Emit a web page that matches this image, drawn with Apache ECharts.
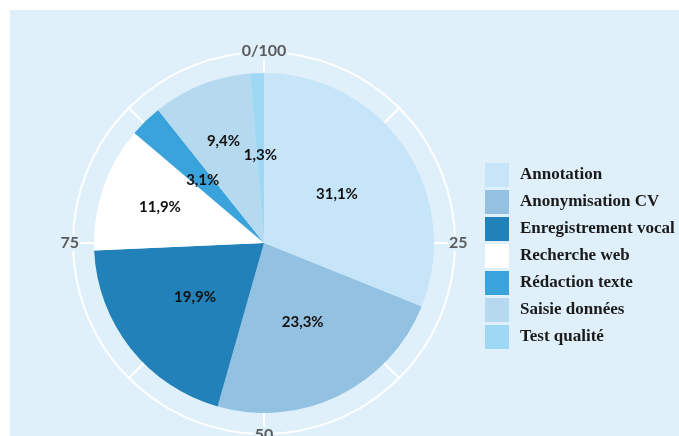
<!DOCTYPE html>
<html>
<head>
<meta charset="utf-8">
<script src="https://cdn.jsdelivr.net/npm/echarts@6/dist/echarts.min.js"></script>
<style>
  html, body { margin: 0; padding: 0; background: #fff; }
  #chart { width: 679px; height: 436px; }
</style>
</head>
<body>
<div id="chart"></div>
<script>
// data
const categories = ["Annotation", "Anonymisation CV", "Enregistrement vocal", "Recherche web", "Rédaction texte", "Saisie données", "Test qualité"];
const shares = [31.1, 23.3, 19.9, 11.9, 3.1, 9.4, 1.3];
const sliceColors = ["#c6e5f8", "#93c1e1", "#2181b8", "#ffffff", "#3ba3dc", "#b5d9ef", "#9fd8f4"];
const angleTicks = [0, 25, 50, 75];

const chart = echarts.init(document.getElementById("chart"));

const bg = "#dff0fa";
const cx = 264, cy = 243;

// two identical polar frames: the first draws the circle and spokes,
// the second only the labels so they sit on top of the lines
const option = {
  animation: false,
  graphic: [{
    type: "rect",
    z: -10,
    shape: { x: 10, y: 10, width: 669, height: 426 },
    style: { fill: bg }
  }],
  polar: [
    { center: [cx, cy], radius: 191 },
    { center: [cx, cy], radius: 191 }
  ],
  radiusAxis: [
    { polarIndex: 0, show: false, min: 0, max: 1 },
    { polarIndex: 1, show: false, min: 0, max: 1 }
  ],
  angleAxis: [
    {
      polarIndex: 0,
      type: "value",
      min: 0,
      max: 100,
      interval: 12.5,
      startAngle: 90,
      clockwise: true,
      z: 0,
      axisLine: { lineStyle: { color: "#ffffff", width: 2 } },
      axisTick: { show: false },
      splitLine: { show: true, lineStyle: { color: "#ffffff", width: 2 } },
      axisLabel: { show: false }
    },
    {
      polarIndex: 1,
      type: "value",
      min: 0,
      max: 100,
      interval: 25,
      startAngle: 90,
      clockwise: true,
      z: 8,
      axisLine: { show: false },
      axisTick: { show: false },
      splitLine: { show: false },
      axisLabel: {
        margin: -7,
        color: "#5a5a5a",
        fontFamily: "Lato",
        fontWeight: "bold",
        fontSize: 16,
        backgroundColor: bg,
        padding: [0, 1],
        formatter: function (v) {
          if (v === 0) return "0/100";
          return angleTicks.indexOf(v) >= 0 ? String(v) : "";
        }
      }
    }
  ],
  legend: {
    orient: "vertical",
    left: 485,
    top: 163,
    padding: 0,
    itemWidth: 24,
    itemHeight: 24,
    itemGap: 3,
    icon: "rect",
    data: categories,
    textStyle: {
      fontFamily: "Liberation Serif",
      fontWeight: "bold",
      fontSize: 17,
      color: "#1a1a1a",
      padding: [0, 0, 0, 6]
    }
  },
  series: [{
    type: "pie",
    center: [cx, cy],
    radius: 170,
    startAngle: 90,
    clockwise: true,
    z: 5,
    data: categories.map((c, i) => ({
      name: c,
      value: shares[i],
      itemStyle: { color: sliceColors[i] }
    })),
    label: {
      position: "inside",
      color: "#111111",
      fontFamily: "Lato",
      fontWeight: "bold",
      fontSize: 15,
      formatter: p => String(p.value).replace(".", ",") + "%"
    },
    // keep every inside label visible; mid-size slices next to the thin
    // ones get their label pushed outward so nothing collides
    labelLayout: function (p) {
      const r = p.labelRect;
      const v = shares[p.dataIndex];
      const k = v > 5 && v < 15 ? 1.25 : 1;
      const lx = r.x + r.width / 2;
      const ly = r.y + r.height / 2;
      return {
        x: cx + (lx - cx) * k,
        y: cy + (ly - cy) * k,
        align: "center",
        verticalAlign: "middle"
      };
    },
    labelLine: { show: false },
    emphasis: { disabled: true }
  }]
};

chart.setOption(option);
</script>
</body>
</html>
